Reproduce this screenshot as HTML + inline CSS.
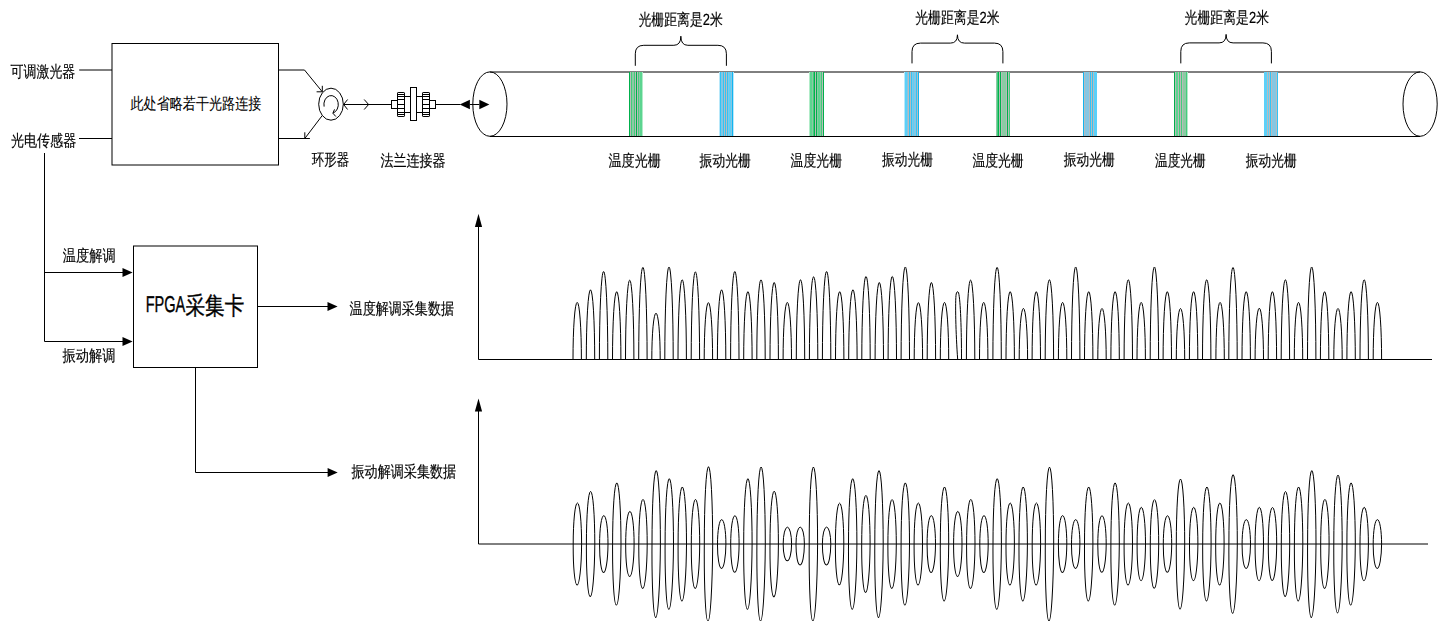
<!DOCTYPE html>
<html><head><meta charset="utf-8"><style>
html,body{margin:0;padding:0;background:#fff;width:1445px;height:621px;overflow:hidden}
svg{display:block;font-family:"Liberation Sans",sans-serif;text-rendering:geometricPrecision}
text{fill:#000;stroke:#000;stroke-width:0.18px}
</style></head><body>
<svg width="1445" height="621" viewBox="0 0 1445 621">
<path d="M79.2 70H112M79 138.5H112" stroke="#000" stroke-width="1" fill="none"/>
<rect x="112" y="43.5" width="166.5" height="121.5" stroke="#000" stroke-width="1" fill="none"/>
<path d="M278.5 70H304.5L322.3 91.8" stroke="#000" stroke-width="1" fill="none"/>
<path d="M316.6 91.8H322.3V85.8" stroke="#000" stroke-width="1" fill="none"/>
<path d="M278.5 138.5H309.9M322.2 115.6L304.8 138.5V132.3" stroke="#000" stroke-width="1" fill="none"/>
<ellipse cx="331" cy="104.2" rx="12.3" ry="16" stroke="#000" stroke-width="1" fill="none"/>
<path d="M324.1 106.6A7.2 8.9 0 1 1 332.9 113.1" stroke="#000" stroke-width="1" fill="none"/>
<path d="M334.5 109.4L332.9 113.2L335.8 116.5" stroke="#000" stroke-width="1" fill="none"/>
<path d="M343.6 104.5H391.5M347.6 99.5L343.6 104.5L347.6 109.5M364.2 99.5L368.6 104.5L364.2 109.5" stroke="#000" stroke-width="1" fill="none"/>
<rect x="391.5" y="100.5" width="6" height="8" stroke="#000" stroke-width="1" fill="none"/>
<rect x="429.5" y="100.5" width="6" height="8" stroke="#000" stroke-width="1" fill="none"/>
<path d="M404.5 96.5H410.5M404.5 112.5H410.5M416.5 96.5H422.5M416.5 112.5H422.5" stroke="#000" stroke-width="1" fill="none"/>
<rect x="397.5" y="92.5" width="7" height="24" rx="0.6" stroke="#000" stroke-width="1" fill="none"/>
<path d="M397.5 94.5H404.5M397.5 96.5H404.5M397.5 99.5H404.5M397.5 104.5H404.5M397.5 108.5H404.5M397.5 112.5H404.5M397.5 114.5H404.5" stroke="#000" stroke-width="1" fill="none"/>
<rect x="422.5" y="92.5" width="7" height="24" rx="0.6" stroke="#000" stroke-width="1" fill="none"/>
<path d="M422.5 94.5H429.5M422.5 96.5H429.5M422.5 99.5H429.5M422.5 104.5H429.5M422.5 108.5H429.5M422.5 112.5H429.5M422.5 114.5H429.5" stroke="#000" stroke-width="1" fill="none"/>
<rect x="410.5" y="87.5" width="6" height="33" stroke="#000" stroke-width="1" fill="none"/>
<path d="M435.5 104.5H460" stroke="#000" stroke-width="1" fill="none"/>
<path d="M459.7 104.5L469.9 99.8V109.2Z" fill="#000"/>
<path d="M469.9 104.5H479.3" stroke="#000" stroke-width="1" fill="none"/>
<path d="M489.4 104.5L479.3 99.8V109.2Z" fill="#000"/>
<path d="M489.9 72H1420.1M489.9 136.5H1420.1" stroke="#000" stroke-width="1" fill="none"/>
<ellipse cx="489.9" cy="104.1" rx="17.1" ry="32.2" stroke="#000" stroke-width="1" fill="none"/>
<ellipse cx="1420.1" cy="104.1" rx="17.1" ry="32.2" stroke="#000" stroke-width="1" fill="none"/>
<rect x="629" y="72" width="1" height="64" fill="#00b04c"/><rect x="630" y="72" width="1" height="64" fill="#b8bcb8"/><rect x="631" y="72" width="1" height="64" fill="#44cc7c"/><rect x="632" y="72" width="1" height="64" fill="#8ccaa4"/><rect x="633" y="72" width="1" height="64" fill="#8ccaa4"/><rect x="634" y="72" width="1" height="64" fill="#44cc7c"/><rect x="635" y="72" width="1" height="64" fill="#b8bcb8"/><rect x="636" y="72" width="1" height="64" fill="#00b04c"/><rect x="637" y="72" width="1" height="64" fill="#b8bcb8"/><rect x="638" y="72" width="1" height="64" fill="#44cc7c"/><rect x="639" y="72" width="1" height="64" fill="#8ccaa4"/><rect x="640" y="72" width="1" height="64" fill="#5cd490"/><rect x="641" y="72" width="1" height="64" fill="#5cd490"/><rect x="642" y="72" width="1" height="64" fill="#b0ecc8"/>
<rect x="719" y="72" width="1" height="64" fill="#b8e8fa"/><rect x="720" y="72" width="1" height="64" fill="#30c4f6"/><rect x="721" y="72" width="1" height="64" fill="#86c6e2"/><rect x="722" y="72" width="1" height="64" fill="#86c6e2"/><rect x="723" y="72" width="1" height="64" fill="#30c4f6"/><rect x="724" y="72" width="1" height="64" fill="#b8bcbe"/><rect x="725" y="72" width="1" height="64" fill="#30c4f6"/><rect x="726" y="72" width="1" height="64" fill="#b8bcbe"/><rect x="727" y="72" width="1" height="64" fill="#30c4f6"/><rect x="728" y="72" width="1" height="64" fill="#86c6e2"/><rect x="729" y="72" width="1" height="64" fill="#5cd0f8"/><rect x="730" y="72" width="1" height="64" fill="#5cd0f8"/><rect x="731" y="72" width="1" height="64" fill="#86c6e2"/><rect x="732" y="72" width="1" height="64" fill="#10b4f0"/><rect x="733" y="72" width="1" height="64" fill="#b8e8fa"/>
<rect x="809" y="72" width="1" height="64" fill="#b0ecc8"/><rect x="810" y="72" width="1" height="64" fill="#5cd490"/><rect x="811" y="72" width="1" height="64" fill="#5cd490"/><rect x="812" y="72" width="1" height="64" fill="#8ccaa4"/><rect x="813" y="72" width="1" height="64" fill="#44cc7c"/><rect x="814" y="72" width="1" height="64" fill="#00b04c"/><rect x="815" y="72" width="1" height="64" fill="#b8bcb8"/><rect x="816" y="72" width="1" height="64" fill="#00b04c"/><rect x="817" y="72" width="1" height="64" fill="#8ccaa4"/><rect x="818" y="72" width="1" height="64" fill="#5cd490"/><rect x="819" y="72" width="1" height="64" fill="#5cd490"/><rect x="820" y="72" width="1" height="64" fill="#8ccaa4"/><rect x="821" y="72" width="1" height="64" fill="#44cc7c"/><rect x="822" y="72" width="1" height="64" fill="#b8bcb8"/><rect x="823" y="72" width="1" height="64" fill="#00b04c"/>
<rect x="904" y="72" width="1" height="64" fill="#b8e8fa"/><rect x="905" y="72" width="1" height="64" fill="#5cd0f8"/><rect x="906" y="72" width="1" height="64" fill="#5cd0f8"/><rect x="907" y="72" width="1" height="64" fill="#86c6e2"/><rect x="908" y="72" width="1" height="64" fill="#b8bcbe"/><rect x="909" y="72" width="1" height="64" fill="#30c4f6"/><rect x="910" y="72" width="1" height="64" fill="#b8bcbe"/><rect x="911" y="72" width="1" height="64" fill="#30c4f6"/><rect x="912" y="72" width="1" height="64" fill="#86c6e2"/><rect x="913" y="72" width="1" height="64" fill="#5cd0f8"/><rect x="914" y="72" width="1" height="64" fill="#86c6e2"/><rect x="915" y="72" width="1" height="64" fill="#86c6e2"/><rect x="916" y="72" width="1" height="64" fill="#30c4f6"/><rect x="917" y="72" width="1" height="64" fill="#b8bcbe"/><rect x="918" y="72" width="1" height="64" fill="#10b4f0"/>
<rect x="996" y="72" width="1" height="64" fill="#8ccaa4"/><rect x="997" y="72" width="1" height="64" fill="#44cc7c"/><rect x="998" y="72" width="1" height="64" fill="#00b04c"/><rect x="999" y="72" width="1" height="64" fill="#b8bcb8"/><rect x="1000" y="72" width="1" height="64" fill="#00b04c"/><rect x="1001" y="72" width="1" height="64" fill="#b8bcb8"/><rect x="1002" y="72" width="1" height="64" fill="#8ccaa4"/><rect x="1003" y="72" width="1" height="64" fill="#8ccaa4"/><rect x="1004" y="72" width="1" height="64" fill="#8ccaa4"/><rect x="1005" y="72" width="1" height="64" fill="#8ccaa4"/><rect x="1006" y="72" width="1" height="64" fill="#b8bcb8"/><rect x="1007" y="72" width="1" height="64" fill="#00b04c"/><rect x="1008" y="72" width="1" height="64" fill="#b8bcb8"/><rect x="1009" y="72" width="1" height="64" fill="#44cc7c"/>
<rect x="1083" y="72" width="1" height="64" fill="#10b4f0"/><rect x="1084" y="72" width="1" height="64" fill="#b8bcbe"/><rect x="1085" y="72" width="1" height="64" fill="#86c6e2"/><rect x="1086" y="72" width="1" height="64" fill="#86c6e2"/><rect x="1087" y="72" width="1" height="64" fill="#86c6e2"/><rect x="1088" y="72" width="1" height="64" fill="#86c6e2"/><rect x="1089" y="72" width="1" height="64" fill="#b8bcbe"/><rect x="1090" y="72" width="1" height="64" fill="#30c4f6"/><rect x="1091" y="72" width="1" height="64" fill="#b8bcbe"/><rect x="1092" y="72" width="1" height="64" fill="#30c4f6"/><rect x="1093" y="72" width="1" height="64" fill="#b8bcbe"/><rect x="1094" y="72" width="1" height="64" fill="#5cd0f8"/><rect x="1095" y="72" width="1" height="64" fill="#5cd0f8"/><rect x="1096" y="72" width="1" height="64" fill="#5cd0f8"/>
<rect x="1174" y="72" width="1" height="64" fill="#00b04c"/><rect x="1175" y="72" width="1" height="64" fill="#b8bcb8"/><rect x="1176" y="72" width="1" height="64" fill="#5cd490"/><rect x="1177" y="72" width="1" height="64" fill="#5cd490"/><rect x="1178" y="72" width="1" height="64" fill="#b8bcb8"/><rect x="1179" y="72" width="1" height="64" fill="#44cc7c"/><rect x="1180" y="72" width="1" height="64" fill="#b8bcb8"/><rect x="1181" y="72" width="1" height="64" fill="#44cc7c"/><rect x="1182" y="72" width="1" height="64" fill="#b8bcb8"/><rect x="1183" y="72" width="1" height="64" fill="#8ccaa4"/><rect x="1184" y="72" width="1" height="64" fill="#8ccaa4"/><rect x="1185" y="72" width="1" height="64" fill="#8ccaa4"/><rect x="1186" y="72" width="1" height="64" fill="#44cc7c"/><rect x="1187" y="72" width="1" height="64" fill="#b0ecc8"/>
<rect x="1264" y="72" width="1" height="64" fill="#5cd0f8"/><rect x="1265" y="72" width="1" height="64" fill="#5cd0f8"/><rect x="1266" y="72" width="1" height="64" fill="#5cd0f8"/><rect x="1267" y="72" width="1" height="64" fill="#b8bcbe"/><rect x="1268" y="72" width="1" height="64" fill="#5cd0f8"/><rect x="1269" y="72" width="1" height="64" fill="#b8bcbe"/><rect x="1270" y="72" width="1" height="64" fill="#30c4f6"/><rect x="1271" y="72" width="1" height="64" fill="#b8bcbe"/><rect x="1272" y="72" width="1" height="64" fill="#86c6e2"/><rect x="1273" y="72" width="1" height="64" fill="#86c6e2"/><rect x="1274" y="72" width="1" height="64" fill="#86c6e2"/><rect x="1275" y="72" width="1" height="64" fill="#86c6e2"/><rect x="1276" y="72" width="1" height="64" fill="#b8bcbe"/><rect x="1277" y="72" width="1" height="64" fill="#30c4f6"/>
<path d="M635.3 65.8V53.8Q635.3 45.3 643.8 45.3H673.85Q680.85 45.3 680.85 36.2Q680.85 45.3 687.85 45.3H717.9Q726.4 45.3 726.4 53.8V65.8" stroke="#000" stroke-width="1" fill="none"/>
<path d="M912 63.4V51.6Q912 43.1 920.5 43.1H950.45Q957.45 43.1 957.45 34.8Q957.45 43.1 964.45 43.1H994.4Q1002.9 43.1 1002.9 51.6V63.4" stroke="#000" stroke-width="1" fill="none"/>
<path d="M1180.8 63.4V51.4Q1180.8 42.9 1189.3 42.9H1219.1Q1226.1 42.9 1226.1 34.4Q1226.1 42.9 1233.1 42.9H1262.9Q1271.4 42.9 1271.4 51.4V63.4" stroke="#000" stroke-width="1" fill="none"/>
<path d="M44.5 153V341.5H124M44.5 272.5H124" stroke="#000" stroke-width="1" fill="none"/>
<path d="M132.6 272.5L122.5 268V277Z" fill="#000"/>
<path d="M132.6 341.5L122.5 337V346Z" fill="#000"/>
<rect x="133.5" y="246" width="124" height="121.5" stroke="#000" stroke-width="1" fill="none"/>
<path d="M257.5 306.5H329" stroke="#000" stroke-width="1" fill="none"/>
<path d="M337.6 306.5L327.5 302V311Z" fill="#000"/>
<path d="M195.5 367.5V472.5H329" stroke="#000" stroke-width="1" fill="none"/>
<path d="M337.7 472.5L327.6 468V477Z" fill="#000"/>
<path d="M478.5 226V359.5H1432" stroke="#000" stroke-width="1" fill="none"/>
<path d="M478.5 213.8L474.9 227H482.1Z" fill="#000"/>
<path d="M478.5 411V544H1428" stroke="#000" stroke-width="1" fill="none"/>
<path d="M478.5 398.6L474.9 411.6H482.1Z" fill="#000"/>
<path d="M573 359.5A4.2 57.1 0 0 1 581.4 359.5M586.3 359.5A4.2 69.7 0 0 1 594.7 359.5M599.4 359.5A4.2 88 0 0 1 607.8 359.5M612.5 359.5A4.2 67.8 0 0 1 620.9 359.5M625.5 359.5A4.2 79.3 0 0 1 633.9 359.5M638.7 359.5A4.2 92.5 0 0 1 647.1 359.5M651.8 359.5A4.2 46.3 0 0 1 660.2 359.5M664.8 359.5A4.2 92.5 0 0 1 673.2 359.5M678 359.5A4.2 79.7 0 0 1 686.4 359.5M691.2 359.5A4.2 88 0 0 1 699.6 359.5M704.2 359.5A4.2 57.1 0 0 1 712.6 359.5M717.4 359.5A4.2 69.7 0 0 1 725.8 359.5M730.6 359.5A4.2 88 0 0 1 739 359.5M743.7 359.5A4.2 67.8 0 0 1 752.1 359.5M756.8 359.5A4.2 79.7 0 0 1 765.2 359.5M770 359.5A4.2 77 0 0 1 778.4 359.5M783.1 359.5A4.2 57.1 0 0 1 791.5 359.5M796.3 359.5A4.2 79.7 0 0 1 804.7 359.5M809.4 359.5A4.2 83 0 0 1 817.8 359.5M822.4 359.5A4.2 88 0 0 1 830.8 359.5M835.5 359.5A4.2 67.8 0 0 1 843.9 359.5M848.7 359.5A4.2 69.7 0 0 1 857.1 359.5M861.8 359.5A4.2 83 0 0 1 870.2 359.5M875.1 359.5A4.2 77 0 0 1 883.5 359.5M888.1 359.5A4.2 83 0 0 1 896.5 359.5M901.1 359.5A4.2 92.5 0 0 1 909.5 359.5M914.2 359.5A4.2 57.1 0 0 1 922.6 359.5M927.2 359.5A4.2 77 0 0 1 935.6 359.5M940.3 359.5A4.2 57.1 0 0 1 948.7 359.5M966.4 359.5A4.2 79.7 0 0 1 974.8 359.5M979.5 359.5A4.2 57.1 0 0 1 987.9 359.5M992.9 359.5A4.2 92.5 0 0 1 1001.3 359.5M1006 359.5A4.2 67.8 0 0 1 1014.4 359.5M1019.2 359.5A4.2 51.3 0 0 1 1027.6 359.5M1032.1 359.5A4.2 67.8 0 0 1 1040.5 359.5M1045.2 359.5A4.2 79.7 0 0 1 1053.6 359.5M1058.4 359.5A4.2 57.1 0 0 1 1066.8 359.5M1071.5 359.5A4.2 92.5 0 0 1 1079.9 359.5M1084.5 359.5A4.2 67.8 0 0 1 1092.9 359.5M1097.8 359.5A4.2 51.3 0 0 1 1106.2 359.5M1110.9 359.5A4.2 67.8 0 0 1 1119.3 359.5M1124.1 359.5A4.2 79.7 0 0 1 1132.5 359.5M1137 359.5A4.2 57.1 0 0 1 1145.4 359.5M1150.2 359.5A4.2 92.5 0 0 1 1158.6 359.5M1163.1 359.5A4.2 67.8 0 0 1 1171.5 359.5M1176.3 359.5A4.2 51.3 0 0 1 1184.7 359.5M1189.4 359.5A4.2 67.8 0 0 1 1197.8 359.5M1202.5 359.5A4.2 79.7 0 0 1 1210.9 359.5M1215.9 359.5A4.2 57.1 0 0 1 1224.3 359.5M1228.8 359.5A4.2 92.5 0 0 1 1237.2 359.5M1242 359.5A4.2 67.8 0 0 1 1250.4 359.5M1255.1 359.5A4.2 51.3 0 0 1 1263.5 359.5M1268.2 359.5A4.2 67.8 0 0 1 1276.6 359.5M1281.2 359.5A4.2 79.7 0 0 1 1289.6 359.5M1294.3 359.5A4.2 57.1 0 0 1 1302.7 359.5M1307.5 359.5A4.2 92.5 0 0 1 1315.9 359.5M1320.4 359.5A4.2 67.8 0 0 1 1328.8 359.5M1333.8 359.5A4.2 51.3 0 0 1 1342.2 359.5M1346.9 359.5A4.2 67.8 0 0 1 1355.3 359.5M1360 359.5A4.2 79.7 0 0 1 1368.4 359.5M1373.2 359.5A4.2 57.1 0 0 1 1381.6 359.5M957.7 359.5C955.8 335 955 300 956.2 294C956.8 291.3 957.8 291 958.6 293C960.5 300 961.5 330 961.5 359.5" stroke="#000" stroke-width="1" fill="none"/>
<path d="M573.2 544A4.2 41 0 0 1 581.6 544M586.4 544A4.2 52.8 0 0 1 594.8 544M599.6 544A4.2 28.4 0 0 1 608 544M612.6 544A4.2 61.1 0 0 1 621 544M625.7 544A4.2 32.6 0 0 1 634.1 544M638.8 544A4.2 44.6 0 0 1 647.2 544M652 544A4.2 73.4 0 0 1 660.4 544M665.1 544A4.2 65.3 0 0 1 673.5 544M678.1 544A4.2 57 0 0 1 686.5 544M691.3 544A4.2 44.6 0 0 1 699.7 544M704.3 544A4.2 77.3 0 0 1 712.7 544M717.5 544A4.2 24.4 0 0 1 725.9 544M730.7 544A4.2 28.4 0 0 1 739.1 544M743.7 544A4.2 65.3 0 0 1 752.1 544M756.9 544A4.2 77.3 0 0 1 765.3 544M770 544A4.2 52.8 0 0 1 778.4 544M783.2 544A4.2 16.9 0 0 1 791.6 544M796 544A4.2 16.9 0 0 1 804.4 544M809.2 544A4.2 77.3 0 0 1 817.6 544M822.4 544A4.2 16.9 0 0 1 830.8 544M835.4 544A4.2 41 0 0 1 843.8 544M848.5 544A4.2 65.3 0 0 1 856.9 544M861.7 544A4.2 48.8 0 0 1 870.1 544M874.8 544A4.2 73.4 0 0 1 883.2 544M887.9 544A4.2 44.6 0 0 1 896.3 544M901.1 544A4.2 61.1 0 0 1 909.5 544M914.1 544A4.2 41 0 0 1 922.5 544M927.1 544A4.2 28.4 0 0 1 935.5 544M940.3 544A4.2 57 0 0 1 948.7 544M953.6 544A4.2 32.6 0 0 1 962 544M966.6 544A4.2 44.6 0 0 1 975 544M979.8 544A4.2 28.4 0 0 1 988.2 544M993 544A4.2 65.3 0 0 1 1001.4 544M1006 544A4.2 41 0 0 1 1014.4 544M1019 544A4.2 57 0 0 1 1027.4 544M1032.2 544A4.2 41 0 0 1 1040.6 544M1045.3 544A4.2 77.3 0 0 1 1053.7 544M1058.4 544A4.2 28.4 0 0 1 1066.8 544M1071.5 544A4.2 24.4 0 0 1 1079.9 544M1084.5 544A4.2 57 0 0 1 1092.9 544M1097.8 544A4.2 28.4 0 0 1 1106.2 544M1110.9 544A4.2 61.1 0 0 1 1119.3 544M1124.1 544A4.2 41 0 0 1 1132.5 544M1137.1 544A4.2 36.7 0 0 1 1145.5 544M1150.3 544A4.2 44.6 0 0 1 1158.7 544M1163.3 544A4.2 28.4 0 0 1 1171.7 544M1176.3 544A4.2 65.3 0 0 1 1184.7 544M1189.5 544A4.2 36.7 0 0 1 1197.9 544M1202.7 544A4.2 57 0 0 1 1211.1 544M1215.7 544A4.2 41 0 0 1 1224.1 544M1228.9 544A4.2 69.3 0 0 1 1237.3 544M1242.1 544A4.2 24.4 0 0 1 1250.5 544M1255.1 544A4.2 36.7 0 0 1 1263.5 544M1268.3 544A4.2 36.7 0 0 1 1276.7 544M1281.3 544A4.2 52.8 0 0 1 1289.7 544M1294.4 544A4.2 57 0 0 1 1302.8 544M1307.6 544A4.2 73.4 0 0 1 1316 544M1320.7 544A4.2 44.6 0 0 1 1329.1 544M1333.8 544A4.2 69.3 0 0 1 1342.2 544M1346.9 544A4.2 61.1 0 0 1 1355.3 544M1360 544A4.2 36.7 0 0 1 1368.4 544M1373.2 544A4.2 24.4 0 0 1 1381.6 544" stroke="#000" stroke-width="1" fill="none"/>
<path transform="matrix(1 0 -0.007 1 3.808 0)" d="M581.6 544A4.2 41 0 0 1 573.2 544M594.8 544A4.2 52.8 0 0 1 586.4 544M608 544A4.2 28.4 0 0 1 599.6 544M621 544A4.2 61.1 0 0 1 612.6 544M634.1 544A4.2 32.6 0 0 1 625.7 544M647.2 544A4.2 44.6 0 0 1 638.8 544M660.4 544A4.2 73.4 0 0 1 652 544M673.5 544A4.2 65.3 0 0 1 665.1 544M686.5 544A4.2 57 0 0 1 678.1 544M699.7 544A4.2 44.6 0 0 1 691.3 544M712.7 544A4.2 77.3 0 0 1 704.3 544M725.9 544A4.2 24.4 0 0 1 717.5 544M739.1 544A4.2 28.4 0 0 1 730.7 544M752.1 544A4.2 65.3 0 0 1 743.7 544M765.3 544A4.2 77.3 0 0 1 756.9 544M778.4 544A4.2 52.8 0 0 1 770 544M791.6 544A4.2 16.9 0 0 1 783.2 544M804.4 544A4.2 20.9 0 0 1 796 544M817.6 544A4.2 77.3 0 0 1 809.2 544M830.8 544A4.2 20.9 0 0 1 822.4 544M843.8 544A4.2 41 0 0 1 835.4 544M856.9 544A4.2 65.3 0 0 1 848.5 544M870.1 544A4.2 48.8 0 0 1 861.7 544M883.2 544A4.2 73.4 0 0 1 874.8 544M896.3 544A4.2 44.6 0 0 1 887.9 544M909.5 544A4.2 61.1 0 0 1 901.1 544M922.5 544A4.2 41 0 0 1 914.1 544M935.5 544A4.2 28.4 0 0 1 927.1 544M948.7 544A4.2 57 0 0 1 940.3 544M962 544A4.2 32.6 0 0 1 953.6 544M975 544A4.2 44.6 0 0 1 966.6 544M988.2 544A4.2 28.4 0 0 1 979.8 544M1001.4 544A4.2 65.3 0 0 1 993 544M1014.4 544A4.2 41 0 0 1 1006 544M1027.4 544A4.2 57 0 0 1 1019 544M1040.6 544A4.2 41 0 0 1 1032.2 544M1053.7 544A4.2 77.3 0 0 1 1045.3 544M1066.8 544A4.2 28.4 0 0 1 1058.4 544M1079.9 544A4.2 24.4 0 0 1 1071.5 544M1092.9 544A4.2 57 0 0 1 1084.5 544M1106.2 544A4.2 28.4 0 0 1 1097.8 544M1119.3 544A4.2 61.1 0 0 1 1110.9 544M1132.5 544A4.2 41 0 0 1 1124.1 544M1145.5 544A4.2 36.7 0 0 1 1137.1 544M1158.7 544A4.2 44.6 0 0 1 1150.3 544M1171.7 544A4.2 28.4 0 0 1 1163.3 544M1184.7 544A4.2 65.3 0 0 1 1176.3 544M1197.9 544A4.2 36.7 0 0 1 1189.5 544M1211.1 544A4.2 57 0 0 1 1202.7 544M1224.1 544A4.2 41 0 0 1 1215.7 544M1237.3 544A4.2 69.3 0 0 1 1228.9 544M1250.5 544A4.2 24.4 0 0 1 1242.1 544M1263.5 544A4.2 36.7 0 0 1 1255.1 544M1276.7 544A4.2 36.7 0 0 1 1268.3 544M1289.7 544A4.2 52.8 0 0 1 1281.3 544M1302.8 544A4.2 57 0 0 1 1294.4 544M1316 544A4.2 73.4 0 0 1 1307.6 544M1329.1 544A4.2 44.6 0 0 1 1320.7 544M1342.2 544A4.2 69.3 0 0 1 1333.8 544M1355.3 544A4.2 61.1 0 0 1 1346.9 544M1368.4 544A4.2 36.7 0 0 1 1360 544M1381.6 544A4.2 24.4 0 0 1 1373.2 544" stroke="#000" stroke-width="1" fill="none"/>
<g><text transform="translate(130.500 108.725) scale(0.81755 1.00000)" font-size="16" style="stroke-width:0.08px">此处省略若干光路连接</text><text transform="translate(145.646 311.928) scale(0.66180 1.04375)" font-size="22" style="stroke-width:0.35px">FPGA</text><text transform="translate(185.557 313.546) scale(0.88880 1.11059)" font-size="22" style="stroke-width:0.35px">采集卡</text></g>
<g style="opacity:0.999"><text transform="translate(10.600 76.625) scale(0.80881 1.00000)" font-size="16">可调激光器</text><text transform="translate(10.995 145.500) scale(0.81514 1.00000)" font-size="16">光电传感器</text><text transform="translate(311.794 165.375) scale(0.77696 1.00000)" font-size="16">环形器</text><text transform="translate(380.597 165.875) scale(0.81136 1.00000)" font-size="16">法兰连接器</text><text transform="translate(638.399 24.850) scale(0.80480 1.00000)" font-size="16">光栅距离是2米</text><text transform="translate(915.199 23.350) scale(0.80480 1.00000)" font-size="16">光栅距离是2米</text><text transform="translate(1184.599 23.200) scale(0.80480 1.00000)" font-size="16">光栅距离是2米</text><text transform="translate(608.500 165.600) scale(0.81732 1.00000)" font-size="16">温度光栅</text><text transform="translate(699.600 165.700) scale(0.80000 1.00000)" font-size="16">振动光栅</text><text transform="translate(790.600 165.950) scale(0.80315 1.00000)" font-size="16">温度光栅</text><text transform="translate(882.100 165.350) scale(0.79528 1.00000)" font-size="16">振动光栅</text><text transform="translate(972.500 165.950) scale(0.79843 1.00000)" font-size="16">温度光栅</text><text transform="translate(1063.800 165.350) scale(0.79843 1.00000)" font-size="16">振动光栅</text><text transform="translate(1155.000 165.600) scale(0.79055 1.00000)" font-size="16">温度光栅</text><text transform="translate(1245.800 165.700) scale(0.79370 1.00000)" font-size="16">振动光栅</text><text transform="translate(62.700 261.200) scale(0.82709 1.00000)" font-size="16">温度解调</text><text transform="translate(62.500 361.025) scale(0.82709 1.00000)" font-size="16">振动解调</text><text transform="translate(349.600 314.250) scale(0.81569 1.00000)" font-size="16">温度解调采集数据</text><text transform="translate(351.500 477.475) scale(0.81804 1.00000)" font-size="16">振动解调采集数据</text></g>
</svg>
</body></html>
